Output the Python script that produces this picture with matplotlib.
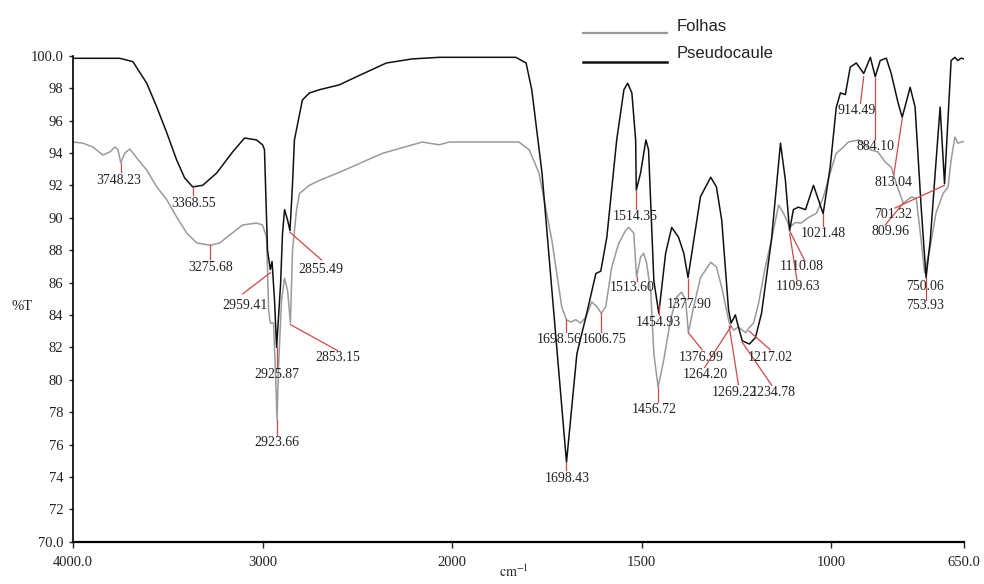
import numpy as np
import matplotlib
matplotlib.use("Agg")
import matplotlib.pyplot as plt
from matplotlib.lines import Line2D

# ---- spectra: wavenumber (cm-1) and transmittance (%T) ----
pseudocaule_wn = [4000, 3753, 3684, 3611, 3558, 3505, 3453, 3411, 3368.55, 3316, 3242, 3158,
                  3095, 3032, 3000, 2990, 2974, 2959.41, 2950, 2937, 2925.87, 2905, 2895, 2884,
                  2868, 2855.49, 2842, 2832, 2790, 2753, 2700, 2595, 2505, 2347, 2211, 2068,
                  1832, 1805, 1790, 1763, 1739, 1698.43, 1671, 1647, 1621, 1608, 1592, 1566,
                  1547, 1537, 1526, 1516, 1514.35, 1503, 1489, 1482, 1468, 1454.93, 1437, 1421,
                  1403, 1389, 1377.90, 1368, 1345, 1318, 1303, 1289, 1271, 1264.20, 1253, 1245,
                  1234.78, 1216, 1200, 1184, 1158, 1134, 1121, 1110.08, 1100, 1087, 1068, 1047,
                  1021.48, 1003, 987, 976, 963, 950, 934, 914.49, 897, 884.10, 871, 855, 842,
                  824, 813.04, 792, 779, 763, 750.06, 739, 726, 713, 701.32, 684, 674, 666,
                  658, 650]
pseudocaule_t = [99.84, 99.84, 99.63, 98.3, 96.83, 95.23, 93.56, 92.45, 91.9, 92.0, 92.76, 94.06,
                 94.92, 94.8, 94.5, 94.2, 88.0, 86.8, 87.3, 84.9, 82.0, 85.9, 89.0, 90.5,
                 89.85, 89.2, 92.1, 94.8, 97.27, 97.7, 97.9, 98.2, 98.7, 99.55, 99.8, 99.9,
                 99.9, 99.55, 97.9, 92.76, 86.1, 74.9, 81.6, 83.9, 86.55, 86.7, 88.8, 94.8,
                 97.9, 98.3, 97.7, 94.8, 91.7, 92.76, 94.8, 94.2, 86.1, 84.1, 87.8, 89.4,
                 88.8, 87.8, 86.3, 87.8, 91.3, 92.5, 91.9, 89.85, 84.3, 83.5, 84.0, 83.25,
                 82.4, 82.2, 82.6, 84.1, 88.6, 94.6, 92.3, 89.2, 90.5, 90.65, 90.5, 92.0,
                 90.25, 93.1, 96.8, 97.7, 97.6, 99.3, 99.55, 98.9, 99.9, 98.7, 99.7, 99.85, 98.9,
                 97.1, 96.2, 98.05, 96.83, 90.65, 86.3, 88.6, 92.76, 96.83, 92.1, 99.7, 99.9, 99.7,
                 99.85, 99.8]

folhas_wn = [4000, 3947, 3895, 3842, 3805, 3779, 3763, 3748.23, 3726, 3700, 3663, 3611, 3558,
             3505, 3453, 3400, 3347, 3275.68, 3226, 3174, 3105, 3032, 3000, 2979, 2968, 2959.41,
             2942, 2930, 2923.66, 2916, 2900, 2884, 2868, 2853.15, 2842, 2821, 2805, 2753, 2700,
             2595, 2368, 2158, 2068, 2016, 1824, 1797, 1771, 1737, 1711, 1698.56, 1687, 1674,
             1661, 1647, 1632, 1618, 1606.75, 1595, 1579, 1561, 1542, 1534, 1521, 1513.60, 1503,
             1495, 1487, 1476, 1468, 1456.72, 1442, 1424, 1408, 1395, 1384, 1376.99, 1363, 1345,
             1318, 1303, 1289, 1269.22, 1258, 1245, 1226, 1217.02, 1205, 1192, 1174, 1158, 1139,
             1126, 1109.63, 1095, 1079, 1061, 1039, 1021, 1003, 987, 968, 955, 929, 895, 877,
             858, 842, 829, 816, 809.96, 789, 776, 763, 753.93, 739, 724, 705, 692, 684, 674,
             666, 658, 650]
folhas_t = [94.67, 94.6, 94.36, 93.87, 94.06, 94.36, 94.2, 93.4, 94.0, 94.24, 93.68, 92.94, 91.9,
            91.1, 90.04, 89.05, 88.44, 88.3, 88.44, 88.93, 89.55, 89.67, 89.55, 88.8, 84.3, 83.5,
            83.5, 79.8, 77.5, 80.8, 84.9, 86.27, 85.5, 83.5, 88.0, 90.47, 91.5, 92.0, 92.3,
            92.8, 93.97, 94.67, 94.5, 94.67, 94.67, 94.2, 92.76, 88.6, 84.5, 83.7, 83.56, 83.7,
            83.5, 83.87, 84.8, 84.5, 84.1, 84.5, 86.96, 88.4, 89.24, 89.4, 89.05, 86.33, 87.57,
            87.8, 87.2, 85.35, 81.6, 79.55, 81.2, 83.7, 85.1, 85.4, 84.9, 82.9, 84.5, 86.3,
            87.25, 86.96, 85.7, 83.5, 83.06, 83.25, 82.9, 83.2, 83.5, 84.7, 86.96, 88.6, 90.78,
            90.28, 89.42, 89.7, 89.67, 90.0, 90.28, 91.27, 92.76, 93.97, 94.36, 94.67, 94.8, 94.18, 94.06,
            93.44, 93.12, 92.14, 91.27, 90.9, 91.27, 91.2, 88.6, 86.6, 88.2, 90.28, 91.5, 91.9, 93.56, 94.98,
            94.6, 94.67, 94.7]

# peak labels: text, text position (wn, %T), leader from (wn, %T) to (wn, %T)
peak_labels = ["3748.23", "3368.55", "3275.68", "2959.41", "2855.49", "2853.15", "2925.87",
               "2923.66", "1698.43", "1698.56", "1606.75", "1514.35", "1513.60", "1454.93",
               "1377.90", "1456.72", "1376.99", "1264.20", "1269.22", "1234.78", "1217.02",
               "1110.08", "1109.63", "1021.48", "914.49", "884.10", "813.04", "701.32",
               "809.96", "750.06", "753.93"]

label_layout = [
    (3758, 92.27, 3748.23, 93.4, 3748.23, 92.8),
    (3363, 90.9, 3368.55, 91.9, 3368.55, 91.4),
    (3274, 86.9, 3275.68, 88.3, 3275.68, 87.45),
    (3095, 84.6, 2959.41, 86.6, 3105, 85.3),
    (2690, 86.83, 2855.49, 89.1, 2690, 87.4),
    (2605, 81.4, 2853.15, 83.4, 2605, 81.8),
    (2926, 80.3, 2925.87, 82.0, 2925.87, 80.8),
    (2926, 76.1, 2923.66, 77.5, 2923.66, 76.6),
    (1696, 73.9, 1698.43, 74.9, 1698.43, 74.4),
    (1718, 82.5, 1698.56, 83.7, 1698.56, 82.95),
    (1600, 82.5, 1606.75, 84.1, 1606.75, 82.95),
    (1516, 90.1, 1514.35, 91.7, 1514.35, 90.55),
    (1524, 85.7, 1513.60, 86.33, 1513.60, 86.1),
    (1455, 83.56, 1454.93, 84.6, 1454.93, 84.0),
    (1376, 84.67, 1377.90, 86.2, 1377.90, 85.1),
    (1468, 78.14, 1456.72, 79.55, 1456.72, 78.6),
    (1342, 81.4, 1376.99, 82.9, 1341, 81.85),
    (1332, 80.3, 1264.20, 83.3, 1334, 80.75),
    (1255, 79.24, 1269.22, 83.3, 1245, 79.7),
    (1152, 79.18, 1234.78, 82.3, 1157, 79.65),
    (1161, 81.4, 1217.02, 83.0, 1161, 81.85),
    (1079, 86.96, 1110.08, 89.2, 1069, 87.3),
    (1087, 85.73, 1109.63, 89.0, 1091, 86.2),
    (1021, 89.05, 1021.48, 90.25, 1021.48, 89.5),
    (934, 96.6, 914.49, 98.7, 923, 97.06),
    (884, 94.4, 884.10, 98.6, 884.10, 94.85),
    (837, 92.2, 813.04, 96.1, 835, 92.65),
    (837, 90.17, 701.32, 92.0, 832, 90.6),
    (845, 89.12, 809.96, 90.9, 858, 89.55),
    (753, 85.73, 750.06, 86.3, 750.06, 84.9),
    (753, 84.6, None, None, None, None),
]

x_ticks = [4000, 3000, 2000, 1500, 1000, 650]
x_tick_labels = ["4000.0", "3000", "2000", "1500", "1000", "650.0"]
y_ticks = [70, 72, 74, 76, 78, 80, 82, 84, 86, 88, 90, 92, 94, 96, 98, 100]
y_tick_labels = ["70.0", "72", "74", "76", "78", "80", "82", "84", "86", "88", "90", "92",
                 "94", "96", "98", "100.0"]

SERIF = ["Liberation Serif", "DejaVu Serif"]
SANS = ["Liberation Sans", "DejaVu Sans"]
plt.rcParams["font.family"] = SERIF
plt.rcParams["mathtext.fontset"] = "stix"

BREAK = 2000.0


# wavenumber axis expanded 2x below 2000 cm-1
def fwd(x):
    x = np.asarray(x, dtype=float)
    return np.where(x > BREAK, BREAK + (x - BREAK) / 2.0, x)


def inv(u):
    u = np.asarray(u, dtype=float)
    return np.where(u > BREAK, BREAK + (u - BREAK) * 2.0, u)


fig = plt.figure(figsize=(9.84, 5.84), dpi=100)
ax = fig.add_axes([73 / 984, 1 - 541.7 / 584, 891 / 984, 486 / 584])
ax.set_xscale("function", functions=(fwd, inv))
ax.set_xlim(4000, 650)
ax.set_ylim(70, 100)

ax.plot(folhas_wn, folhas_t, color="#9a9a9a", lw=1.1, zorder=2)
ax.plot(pseudocaule_wn, pseudocaule_t, color="#111111", lw=1.1, zorder=3)

for text, (tx, ty, x0, y0, x1, y1) in zip(peak_labels, label_layout):
    if x0 is not None:
        ax.plot([x0, x1], [y0, y1], color="#d04848", lw=0.9, zorder=4)
    ax.text(tx, ty, text, ha="center", va="center", fontsize=10, color="#222222",
            family=SERIF, zorder=5)

for side in ("top", "right"):
    ax.spines[side].set_visible(False)
ax.spines["left"].set_linewidth(1.2)
ax.spines["bottom"].set_linewidth(1.6)

ax.set_xticks(x_ticks)
ax.set_xticklabels(x_tick_labels)
ax.set_yticks(y_ticks)
ax.set_yticklabels(y_tick_labels)
ax.xaxis.set_minor_locator(matplotlib.ticker.NullLocator())
ax.yaxis.set_minor_locator(matplotlib.ticker.NullLocator())
ax.tick_params(axis="y", length=3, width=1, pad=4, labelsize=10.5, colors="#222222")
ax.tick_params(axis="x", length=4, width=1, pad=6, labelsize=10.5, colors="#222222")

fig.text(22 / 984, 1 - 307 / 584, "%T", ha="center", va="center", fontsize=10.5,
         color="#222222")
fig.text(514 / 984, 1 - 572 / 584, r"$\mathrm{cm}^{-1}$", ha="center", va="center",
         fontsize=10, color="#222222")

# legend
fig.add_artist(Line2D([583 / 984, 667 / 984], [1 - 33 / 584, 1 - 33 / 584],
                      color="#9a9a9a", lw=1.6))
fig.add_artist(Line2D([583 / 984, 667 / 984], [1 - 62 / 584, 1 - 62 / 584],
                      color="#111111", lw=1.8))
fig.text(677 / 984, 1 - 31 / 584, "Folhas", ha="left", va="baseline", fontsize=12,
         family=SANS, color="#222222")
fig.text(677 / 984, 1 - 58 / 584, "Pseudocaule", ha="left", va="baseline", fontsize=12,
         family=SANS, color="#222222")

fig.savefig("out.png", dpi=100, facecolor="white")
